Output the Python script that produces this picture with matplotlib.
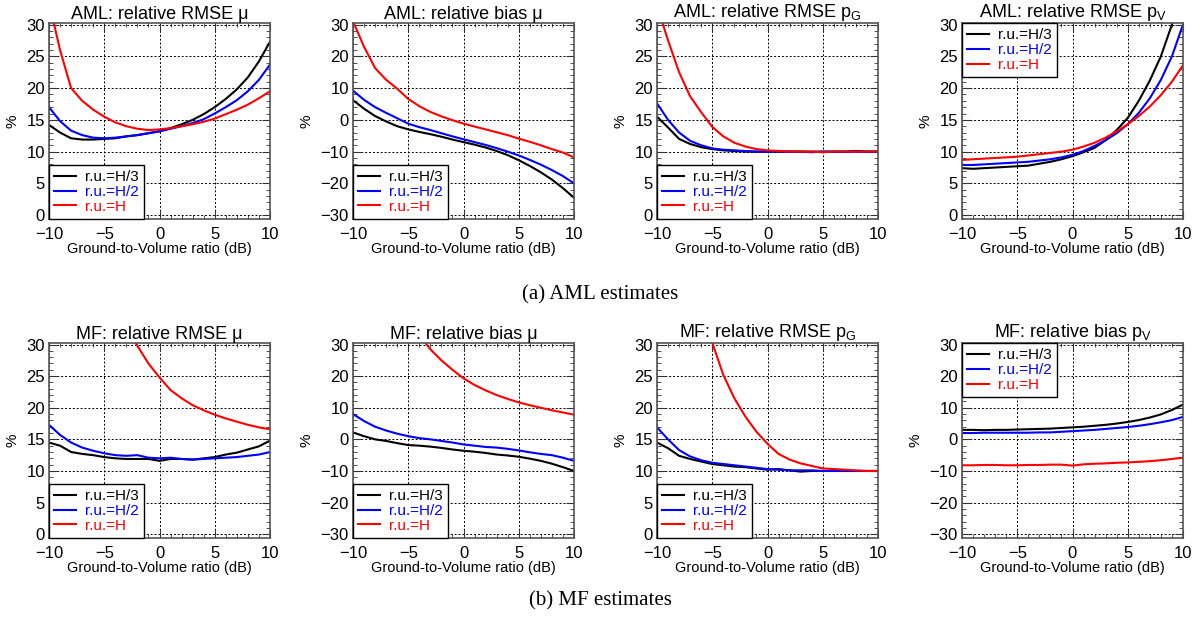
import numpy as np
import matplotlib
matplotlib.use('Agg')
from matplotlib import pyplot as plt
from matplotlib.ticker import MultipleLocator

plt.rcParams['font.family'] = ['Liberation Sans', 'DejaVu Sans']
plt.rcParams['mathtext.default'] = 'regular'

# Ground-to-Volume ratio (dB)
gv = np.arange(-10, 11)
nan = np.nan

labels = ['r.u.=H/3', 'r.u.=H/2', 'r.u.=H']
colors = ['black', '#0000ff', '#ff0000']

# (a) AML estimates
aml_rmse_mu_h3 = [14.2, 13.0, 12.1, 11.9, 11.9, 12.0, 12.1, 12.4, 12.6, 12.9, 13.2,
                  13.7, 14.3, 15.0, 15.9, 17.0, 18.3, 19.8, 21.7, 24.2, 27.3]
aml_rmse_mu_h2 = [17.0, 14.8, 13.3, 12.6, 12.2, 12.1, 12.2, 12.4, 12.6, 12.9, 13.2,
                  13.6, 14.0, 14.5, 15.1, 16.0, 17.0, 18.1, 19.5, 21.3, 23.7]
aml_rmse_mu_h = [33.5, 26.0, 20.0, 18.0, 16.6, 15.5, 14.6, 14.0, 13.6, 13.4, 13.5,
                 13.7, 14.0, 14.3, 14.7, 15.2, 15.9, 16.6, 17.4, 18.4, 19.5]

aml_bias_mu_h3 = [6.2, 3.5, 1.2, -0.5, -2.0, -3.0, -3.8, -4.5, -5.3, -6.2, -7.0,
                  -7.8, -8.7, -9.8, -11.1, -12.7, -14.5, -16.5, -18.8, -21.5, -24.5]
aml_bias_mu_h2 = [9.2, 6.3, 4.0, 2.2, 0.5, -1.2, -2.3, -3.2, -4.2, -5.2, -6.1,
                  -7.0, -7.9, -8.9, -10.0, -11.2, -12.6, -14.1, -15.8, -17.7, -20.0]
aml_bias_mu_h = [31.0, 23.0, 16.3, 12.6, 9.8, 6.6, 4.3, 2.5, 1.1, -0.1, -1.2,
                 -2.1, -3.0, -3.9, -4.8, -5.9, -6.9, -8.0, -9.2, -10.3, -11.8]

aml_rmse_pg_h3 = [15.5, 13.8, 12.0, 11.2, 10.7, 10.4, 10.2, 10.1, 10.0, 10.0, 10.0,
                  10.0, 10.0, 10.0, 10.0, 10.0, 10.0, 10.0, 10.1, 10.0, 10.0]
aml_rmse_pg_h2 = [17.6, 15.0, 13.0, 11.7, 11.0, 10.5, 10.3, 10.2, 10.1, 10.0, 10.0,
                  10.0, 10.0, 10.0, 9.9, 10.0, 10.0, 10.0, 10.0, 10.0, 10.0]
aml_rmse_pg_h = [33.0, 27.5, 22.5, 18.7, 16.2, 13.9, 12.4, 11.4, 10.8, 10.4, 10.2,
                 10.1, 10.0, 10.0, 10.0, 9.9, 10.0, 10.0, 10.0, 10.0, 10.0]

aml_rmse_pv_h3 = [7.4, 7.3, 7.4, 7.5, 7.6, 7.7, 7.8, 8.1, 8.4, 8.8, 9.3,
                  9.9, 10.6, 11.8, 13.4, 15.3, 18.0, 21.2, 25.0, 30.0, 35.0]
aml_rmse_pv_h2 = [7.9, 7.9, 8.0, 8.1, 8.2, 8.3, 8.4, 8.6, 8.8, 9.1, 9.5,
                  10.1, 10.9, 11.8, 12.9, 14.3, 16.1, 18.4, 21.3, 25.0, 30.0]
aml_rmse_pv_h = [8.7, 8.8, 8.9, 9.0, 9.1, 9.2, 9.4, 9.6, 9.8, 10.0, 10.3,
                 10.8, 11.4, 12.2, 13.2, 14.3, 15.6, 17.1, 18.9, 21.0, 23.6]

# (b) MF estimates
mf_rmse_mu_h3 = [14.5, 14.0, 13.0, 12.7, 12.5, 12.2, 12.0, 11.9, 11.9, 11.9, 11.6,
                 11.9, 11.9, 11.8, 12.0, 12.2, 12.6, 12.9, 13.4, 13.9, 14.8]
mf_rmse_mu_h2 = [17.3, 15.7, 14.5, 13.7, 13.2, 12.8, 12.5, 12.4, 12.5, 12.1, 12.0,
                 12.1, 11.9, 11.8, 11.9, 12.0, 12.1, 12.2, 12.4, 12.6, 13.0]
mf_rmse_mu_h = [nan, nan, nan, nan, nan, nan, nan, 32.5, 29.8, 27.0, 24.8,
                22.8, 21.5, 20.4, 19.6, 18.9, 18.3, 17.8, 17.3, 16.9, 16.6]

mf_bias_mu_h3 = [2.2, 1.0, 0.0, -0.5, -1.2, -1.8, -2.0, -2.3, -2.7, -3.2, -3.6,
                 -3.9, -4.3, -4.8, -5.1, -5.5, -6.1, -6.8, -7.7, -8.8, -10.0]
mf_bias_mu_h2 = [8.0, 5.8, 4.0, 2.8, 1.8, 1.0, 0.4, 0.0, -0.5, -1.0, -1.6,
                 -2.0, -2.4, -2.6, -3.0, -3.5, -4.1, -4.6, -5.0, -5.8, -6.8]
mf_bias_mu_h = [nan, nan, nan, nan, nan, nan, 33.0, 28.5, 25.0, 22.0, 19.3,
                17.2, 15.5, 14.0, 12.8, 11.7, 10.8, 10.0, 9.2, 8.5, 7.8]

mf_rmse_pg_h3 = [14.5, 13.6, 12.4, 11.9, 11.5, 11.1, 10.9, 10.7, 10.6, 10.4, 10.2,
                 10.3, 10.1, 9.9, 10.0, 10.0, 10.0, 10.0, 10.0, 10.0, 10.0]
mf_rmse_pg_h2 = [16.9, 15.0, 13.3, 12.3, 11.7, 11.3, 11.1, 10.9, 10.7, 10.5, 10.3,
                 10.2, 10.1, 10.1, 10.1, 10.0, 10.0, 10.0, 10.0, 10.0, 10.0]
mf_rmse_pg_h = [nan, nan, nan, nan, nan, 30.3, 25.2, 21.5, 18.6, 16.2, 14.3,
                12.7, 11.8, 11.2, 10.8, 10.4, 10.3, 10.2, 10.1, 10.0, 10.0]

mf_bias_pv_h3 = [3.0, 3.0, 2.9, 3.0, 3.0, 3.1, 3.2, 3.3, 3.4, 3.6, 3.8,
                 4.0, 4.3, 4.6, 5.0, 5.5, 6.1, 6.9, 7.9, 9.3, 11.0]
mf_bias_pv_h2 = [2.0, 2.0, 2.1, 2.1, 2.1, 2.1, 2.1, 2.2, 2.2, 2.4, 2.6,
                 2.8, 3.0, 3.3, 3.6, 3.9, 4.3, 4.8, 5.4, 6.1, 7.1]
mf_bias_pv_h = [-8.2, -8.2, -8.1, -8.1, -8.2, -8.2, -8.1, -8.1, -8.0, -8.0, -8.3,
                -7.9, -7.7, -7.6, -7.4, -7.3, -7.1, -6.9, -6.6, -6.2, -5.8]

W, H = 1195, 619
fig = plt.figure(figsize=(W / 100, H / 100), dpi=100)

# pixel boxes: left, right, top, bottom
lefts = [49, 353, 657, 962]
width = 221
rows = [(23, 219), (343, 538)]

panels = [
    ('AML: relative RMSE μ', (0, 30, 5), 'lower left',
     [aml_rmse_mu_h3, aml_rmse_mu_h2, aml_rmse_mu_h]),
    ('AML: relative bias μ', (-30, 30, 10), 'lower left',
     [aml_bias_mu_h3, aml_bias_mu_h2, aml_bias_mu_h]),
    ('AML: relative RMSE p$_G$', (0, 30, 5), 'lower left',
     [aml_rmse_pg_h3, aml_rmse_pg_h2, aml_rmse_pg_h]),
    ('AML: relative RMSE p$_V$', (0, 30, 5), 'upper left',
     [aml_rmse_pv_h3, aml_rmse_pv_h2, aml_rmse_pv_h]),
    ('MF: relative RMSE μ', (0, 30, 5), 'lower left',
     [mf_rmse_mu_h3, mf_rmse_mu_h2, mf_rmse_mu_h]),
    ('MF: relative bias μ', (-30, 30, 10), 'lower left',
     [mf_bias_mu_h3, mf_bias_mu_h2, mf_bias_mu_h]),
    ('MF: relative RMSE p$_G$', (0, 30, 5), 'lower left',
     [mf_rmse_pg_h3, mf_rmse_pg_h2, mf_rmse_pg_h]),
    ('MF: relative bias p$_V$', (-30, 30, 10), 'upper left',
     [mf_bias_pv_h3, mf_bias_pv_h2, mf_bias_pv_h]),
]

for i, (title, (ylo, yhi, ystep), legloc, series) in enumerate(panels):
    top, bot = rows[i // 4]
    left = lefts[i % 4]
    ax = fig.add_axes([left / W, (H - bot) / H, width / W, (bot - top) / H])
    for vals, lab, col in zip(series, labels, colors):
        ax.plot(gv, vals, color=col, lw=1.5, label=lab)
    span = yhi - ylo
    ax.set_xlim(-10, 10)
    ax.set_ylim(ylo - 0.02 * span, yhi + 0.008 * span)
    ax.xaxis.set_major_locator(MultipleLocator(5))
    ax.xaxis.set_minor_locator(MultipleLocator(1))
    ax.yaxis.set_major_locator(MultipleLocator(ystep))
    ax.yaxis.set_minor_locator(MultipleLocator(ystep / 5))
    ax.tick_params(which='both', direction='in', top=True, right=True,
                   labelsize=12, color='#333333')
    ax.tick_params(axis='x', pad=6)
    ax.tick_params(axis='y', pad=3)
    ax.tick_params(which='major', length=6)
    ax.tick_params(which='minor', length=3)
    ax.grid(True, which='major', color='black', linestyle=(0, (2, 2)), lw=0.7)
    for sp in ax.spines.values():
        sp.set_color('#555555')
        sp.set_linewidth(1.2)
    ax.set_title(title, fontsize=13, pad=3)
    ax.set_xlabel('Ground-to-Volume ratio (dB)', fontsize=10.5, labelpad=0)
    ax.set_ylabel('%', fontsize=11, labelpad=5)
    leg = ax.legend(loc=legloc, fontsize=11, handlelength=1.4, handletextpad=0.6,
                    borderaxespad=0, fancybox=False, framealpha=1,
                    edgecolor='black', borderpad=0.35, labelspacing=0.05)
    leg.get_frame().set_linewidth(1.0)
    for txt, col in zip(leg.get_texts(), colors):
        txt.set_color(col)

fig.text(600 / W, 1 - 295 / H, '(a) AML estimates', ha='center', va='center',
         fontsize=15, family='Liberation Serif')
fig.text(600 / W, 1 - 601 / H, '(b) MF estimates', ha='center', va='center',
         fontsize=15, family='Liberation Serif')

fig.savefig('out.png', dpi=100)
